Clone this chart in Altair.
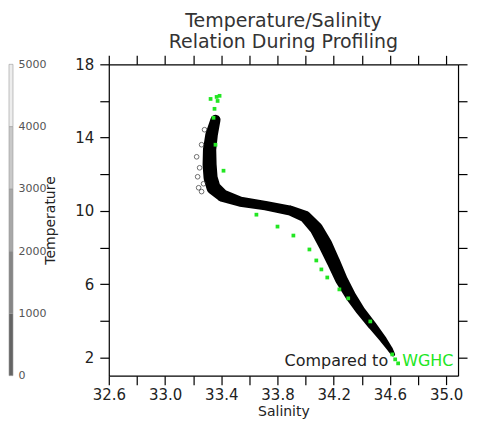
import altair as alt
import pandas as pd

# observed profile: centre line of the dense T/S point cloud and its thickness
band_sal = [33.359, 33.331, 33.317, 33.317, 33.324, 33.345, 33.409, 33.537, 33.714, 33.892,
            33.998, 34.076, 34.140, 34.197, 34.254, 34.318, 34.389, 34.474, 34.552, 34.601, 34.623]
band_temp = [14.97, 14.15, 13.34, 12.52, 11.81, 11.26, 10.83, 10.50, 10.28, 10.01,
             9.68, 9.03, 8.16, 7.23, 6.25, 5.38, 4.56, 3.74, 2.98, 2.44, 2.16]
band_spread = [0.092, 0.114, 0.121, 0.128, 0.128, 0.128, 0.114, 0.092, 0.085, 0.092,
               0.106, 0.121, 0.128, 0.121, 0.114, 0.099, 0.085, 0.078, 0.064, 0.050, 0.035]

# scattered samples at the fresh edge of the cloud
out_sal = [33.225, 33.232, 33.239, 33.260, 33.274, 33.246, 33.260, 33.281]
out_temp = [12.95, 11.86, 11.26, 11.05, 11.48, 12.35, 13.61, 14.43]

# WGHC climatology
wghc_sal = [33.324, 33.367, 33.388, 33.374, 33.352, 33.345, 33.359, 33.416, 33.650, 33.800,
            33.913, 34.027, 34.076, 34.112, 34.154, 34.240, 34.303, 34.460, 34.616, 34.637, 34.658]
wghc_temp = [16.11, 16.22, 16.28, 16.00, 15.57, 15.08, 13.61, 12.19, 9.79, 9.14,
             8.65, 7.89, 7.29, 6.80, 6.36, 5.71, 5.22, 3.96, 2.16, 1.89, 1.67]

# annotation
note_text = ["Compared to", "WGHC"]
note_sal = [34.587, 34.687]
note_temp = [1.51, 1.51]

# depth colour bar
depth_lo = [0, 1000, 2000, 3000, 4000]
depth_hi = [1000, 2000, 3000, 4000, 5000]
depth_gray = ["#646464", "#868686", "#a8a8a8", "#c9c9c9", "#ededed"]
depth_ticks = [0, 1000, 2000, 3000, 4000, 5000]

x_ticks = [32.6, 32.8, 33.0, 33.2, 33.4, 33.6, 33.8, 34.0, 34.2, 34.4, 34.6, 34.8, 35.0]
y_ticks = [2, 4, 6, 8, 10, 12, 14, 16, 18]

band_df = pd.DataFrame({"sal": band_sal, "temp": band_temp, "spread": band_spread,
                        "idx": list(range(len(band_sal)))})
out_df = pd.DataFrame({"sal": out_sal, "temp": out_temp})
wghc_df = pd.DataFrame({"sal": wghc_sal, "temp": wghc_temp})
cmp_df = pd.DataFrame({"sal": note_sal[:1], "temp": note_temp[:1], "t": note_text[:1]})
wg_df = pd.DataFrame({"sal": note_sal[1:], "temp": note_temp[1:], "t": note_text[1:]})
cbar_df = pd.DataFrame({"lo": depth_lo, "hi": depth_hi, "gray": depth_gray, "bar": ["d"] * 5})

FONT = "DejaVu Sans"
xs = alt.Scale(domain=[32.6, 35.084], nice=False, zero=False)
ys = alt.Scale(domain=[1, 18], nice=False, zero=False)

ax_common = dict(domainColor="#000", domainWidth=1.2, tickColor="#000", tickWidth=1.2,
                 tickSize=9, grid=False, labelFont=FONT, labelColor="#222", labelFontSize=15,
                 titleFont=FONT, titleColor="#222", titleFontWeight="normal", titleFontSize=14)

x_bottom = alt.Axis(orient="bottom", values=x_ticks, title="Salinity", labelFlush=False,
                    labelOverlap=False, labelPadding=3, titlePadding=2,
                    labelExpr="round(datum.value*10) % 4 == 2 ? format(datum.value, '.1f') : ''",
                    **ax_common)
y_left = alt.Axis(orient="left", values=y_ticks, title="Temperature", labelOverlap=False,
                  labelPadding=6, titlePadding=17,
                  labelExpr="datum.value % 4 == 2 ? datum.value : ''", **ax_common)
x_top = alt.Axis(orient="top", values=x_ticks, labels=False, title=None, **ax_common)
y_right = alt.Axis(orient="right", values=y_ticks, labels=False, title=None, **ax_common)

band = alt.Chart(band_df).mark_trail(color="#000").encode(
    x=alt.X("sal:Q", scale=xs, axis=x_bottom),
    y=alt.Y("temp:Q", scale=ys, axis=y_left),
    size=alt.Size("spread:Q", scale=alt.Scale(domain=[0, 0.2], range=[0, 22]), legend=None),
    order=alt.Order("idx:Q"),
)

outl = alt.Chart(out_df).mark_point(filled=False, color="#333", size=22, strokeWidth=1).encode(
    x=alt.X("sal:Q", scale=xs, axis=None),
    y=alt.Y("temp:Q", scale=ys, axis=None),
)

wghc = alt.Chart(wghc_df).mark_square(color="#22e622", size=14, opacity=1).encode(
    x=alt.X("sal:Q", scale=xs, axis=x_top),
    y=alt.Y("temp:Q", scale=ys, axis=y_right),
)

cmp_txt = alt.Chart(cmp_df).mark_text(align="right", baseline="alphabetic", font=FONT,
                                      fontSize=16, color="#222").encode(
    x=alt.X("sal:Q", scale=xs, axis=None),
    y=alt.Y("temp:Q", scale=ys, axis=None),
    text="t:N",
)
wg_txt = alt.Chart(wg_df).mark_text(align="left", baseline="alphabetic", font=FONT,
                                    fontSize=16, color="#22e622").encode(
    x=alt.X("sal:Q", scale=xs, axis=None),
    y=alt.Y("temp:Q", scale=ys, axis=None),
    text="t:N",
)

main = alt.layer(band, outl, wghc, cmp_txt, wg_txt).resolve_axis(
    x="independent", y="independent"
).properties(
    width=350, height=312,
    title=alt.Title(["Temperature/Salinity", "Relation During Profiling"], font=FONT,
                    fontSize=19, fontWeight="normal", color="#333", lineHeight=21,
                    anchor="middle", frame="group", offset=3),
)

cbar = alt.Chart(cbar_df).mark_rect(stroke="#9a9a9a", strokeWidth=0.6).encode(
    x=alt.X("bar:N", axis=None, scale=alt.Scale(paddingInner=0, paddingOuter=0)),
    y=alt.Y("lo:Q", scale=alt.Scale(domain=[0, 5000], nice=False),
            axis=alt.Axis(orient="right", values=depth_ticks, format="d", domain=False,
                          ticks=False, grid=False, title=None, labelFont=FONT,
                          labelFontSize=11, labelColor="#555", labelPadding=5)),
    y2="hi:Q",
    color=alt.Color("gray:N", scale=None),
).properties(width=4, height=312)

chart = alt.hconcat(cbar, main, spacing=96, bounds="flush").properties(
    padding={"left": 0, "top": 3, "right": 5, "bottom": 0}
).configure_view(stroke=None)

chart.save("out.html", embed_options={"renderer": "svg", "actions": False})
